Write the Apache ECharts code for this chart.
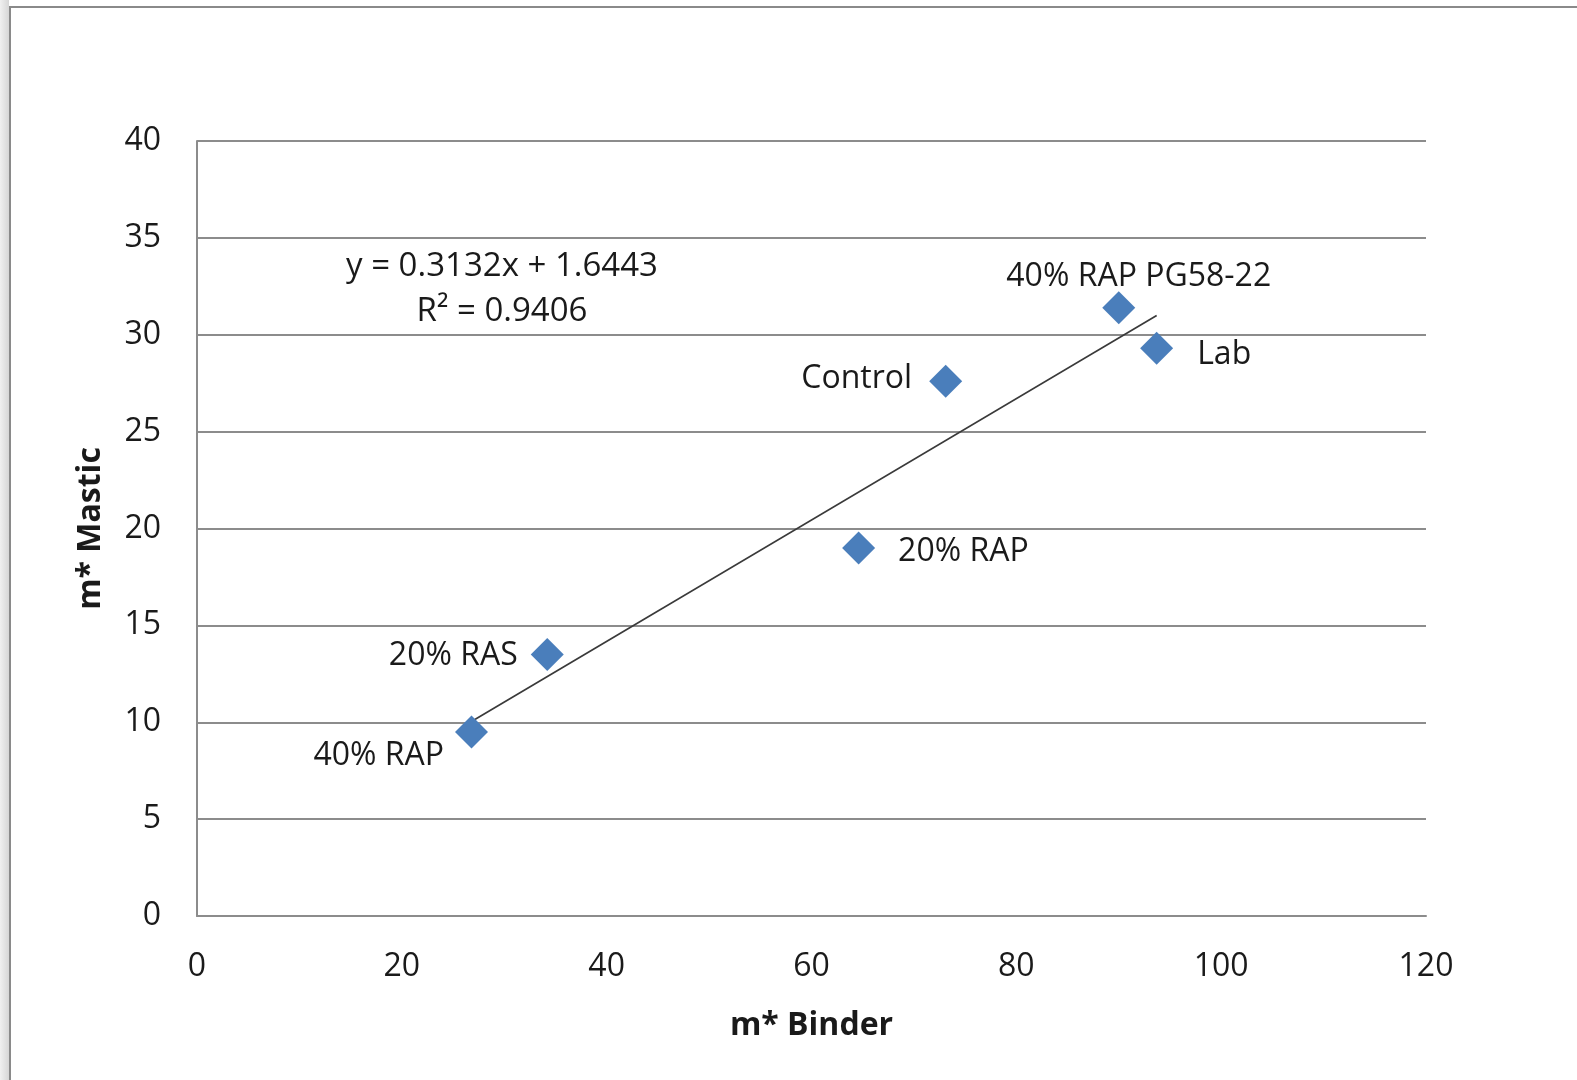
<!DOCTYPE html>
<html>
<head>
<meta charset="utf-8">
<title>m* Mastic vs m* Binder</title>
<script src="https://cdn.jsdelivr.net/npm/echarts@6/dist/echarts.min.js"></script>
<style>
  html, body { margin: 0; padding: 0; background: #ffffff; }
  #chart { width: 1577px; height: 1080px; }
</style>
</head>
<body>
<div id="chart"></div>
<script>
// Mix designs and their relaxation parameters
const mixNames = ['40% RAP', '20% RAS', '20% RAP', 'Control', '40% RAP PG58-22', 'Lab'];
const binderM = [26.8, 34.2, 64.6, 73.1, 90.0, 93.7];
const masticM = [9.5, 13.5, 19.0, 27.6, 31.4, 29.3];

// Linear trend reported on the chart
const slope = 0.3132;
const intercept = 1.6443;
const rSquared = 0.9406;

// Axis ticks
const xTicks = [0, 20, 40, 60, 80, 100, 120];
const yTicks = [0, 5, 10, 15, 20, 25, 30, 35, 40];

const FONT = '"Open Sans", "Noto Sans", sans-serif';
const TEXT = '#1a1a1a';
const GRID = '#8c8c8c';

// Label placement for each point (around the diamond marker)
const labelPlacement = {
  '40% RAP':         { position: 'left',  distance: 11, offset: [0, 24] },
  '20% RAS':         { position: 'left',  distance: 13, offset: [0, 1] },
  '20% RAP':         { position: 'right', distance: 23, offset: [0, 4] },
  'Control':         { position: 'left',  distance: 17, offset: [0, -2] },
  '40% RAP PG58-22': { position: 'top',   distance: 2,  offset: [20, 4] },
  'Lab':             { position: 'right', distance: 24, offset: [0, 7] }
};

const points = mixNames.map((name, i) => ({
  name: name,
  value: [binderM[i], masticM[i]],
  label: Object.assign({
    show: true,
    formatter: name,
    fontFamily: FONT,
    fontSize: 32,
    color: TEXT
  }, labelPlacement[name])
}));

const xMin = Math.min(...binderM);
const xMax = Math.max(...binderM);
const trend = [
  [xMin, slope * xMin + intercept],
  [xMax, slope * xMax + intercept]
];

const chart = echarts.init(document.getElementById('chart'), null, { renderer: 'canvas' });

chart.setOption({
  animation: false,
  backgroundColor: '#ffffff',
  textStyle: { fontFamily: FONT },
  grid: { left: 197, top: 141, right: 151, bottom: 164 },
  xAxis: {
    type: 'value',
    min: xTicks[0],
    max: xTicks[xTicks.length - 1],
    interval: xTicks[1] - xTicks[0],
    name: 'm* Binder',
    nameLocation: 'middle',
    nameGap: 94,
    nameTextStyle: { fontFamily: FONT, fontSize: 32, fontWeight: 'bold', color: TEXT },
    axisLine: { show: true, lineStyle: { color: GRID, width: 2 } },
    axisTick: { show: false },
    axisLabel: { fontFamily: FONT, fontSize: 32, color: TEXT, margin: 35 },
    splitLine: { show: false }
  },
  yAxis: {
    type: 'value',
    min: yTicks[0],
    max: yTicks[yTicks.length - 1],
    interval: yTicks[1] - yTicks[0],
    name: 'm* Mastic',
    nameLocation: 'middle',
    nameGap: 90,
    nameTextStyle: { fontFamily: FONT, fontSize: 32, fontWeight: 'bold', color: TEXT },
    axisLine: { show: true, lineStyle: { color: GRID, width: 2 } },
    axisTick: { show: false },
    axisLabel: { fontFamily: FONT, fontSize: 32, color: TEXT, margin: 36 },
    splitLine: { show: true, lineStyle: { color: GRID, width: 2 } }
  },
  series: [
    {
      type: 'line',
      data: trend,
      symbol: 'none',
      silent: true,
      lineStyle: { color: '#3a3a3a', width: 1.6 },
      z: 3
    },
    {
      type: 'scatter',
      data: points,
      symbol: 'diamond',
      symbolSize: 33,
      itemStyle: { color: '#4a7ebb', opacity: 1 },
      emphasis: { disabled: true },
      z: 4
    }
  ],
  graphic: [
    // left edge shading and chart frame
    {
      type: 'rect',
      shape: { x: 0, y: 0, width: 9, height: 1080 },
      style: {
        fill: new echarts.graphic.LinearGradient(0, 0, 1, 0, [
          { offset: 0, color: '#f0f0f0' },
          { offset: 1, color: '#d6d6d6' }
        ])
      },
      silent: true
    },
    {
      type: 'polyline',
      shape: { points: [[10, 1080], [10, 7], [1577, 7]] },
      style: { stroke: '#8a8a8a', lineWidth: 2, fill: null },
      silent: true
    },
    // regression equation
    {
      type: 'text',
      x: 502,
      y: 244,
      style: {
        text: 'y = ' + slope + 'x + ' + intercept + '\nR² = ' + rSquared,
        align: 'center',
        verticalAlign: 'top',
        font: '33px ' + FONT,
        fill: TEXT,
        lineHeight: 45
      },
      silent: true
    }
  ]
});
</script>
</body>
</html>
